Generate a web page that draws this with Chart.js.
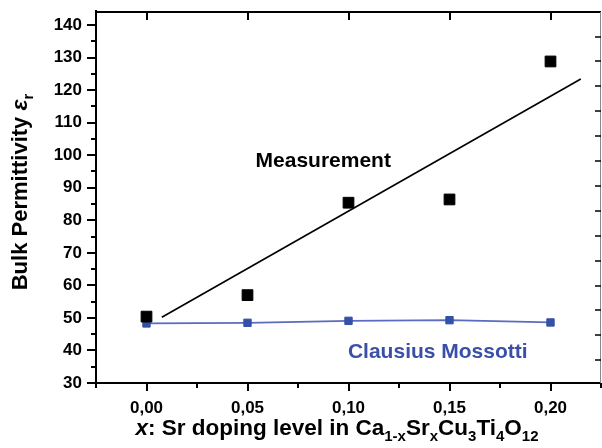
<!DOCTYPE html>
<html><head><meta charset="utf-8">
<script src="https://cdn.jsdelivr.net/npm/chart.js@4/dist/chart.umd.min.js"></script>
<style>html,body{margin:0;padding:0;background:#fff}#wrap{width:602px;height:448px}</style>
</head><body><div id="wrap"><canvas id="c" width="602" height="448"></canvas></div>
<script>
const dopingX = [0.00, 0.05, 0.10, 0.15, 0.20];
const measured = [50.4, 57.0, 85.4, 86.4, 128.8];
const clausiusMossotti = [48.3, 48.5, 49.1, 49.3, 48.6];
const fitX = [0.0076, 0.215];
const fitY = [50.2, 123.4];
const xTicks = [0.00, 0.05, 0.10, 0.15, 0.20];
const yTicks = [30, 40, 50, 60, 70, 80, 90, 100, 110, 120, 130, 140];

const FONT = '"Liberation Sans", Arial, Helvetica, sans-serif';

const framePlugin = {
  id: 'frame',
  beforeDatasetsDraw(chart) {
    const {ctx, chartArea: a, scales: {x, y}} = chart;
    ctx.save();
    ctx.strokeStyle = '#000';
    ctx.lineWidth = 2;
    ctx.beginPath();
    ctx.moveTo(a.left, a.top - 2); ctx.lineTo(a.left, a.bottom);
    ctx.lineTo(a.right, a.bottom);
    ctx.moveTo(a.left, a.top); ctx.lineTo(a.right, a.top);
    ctx.stroke();
    ctx.lineWidth = 1; ctx.strokeStyle = '#888';
    ctx.beginPath(); ctx.moveTo(a.right - 0.5, a.top); ctx.lineTo(a.right - 0.5, a.bottom); ctx.stroke();
    ctx.lineWidth = 2; ctx.strokeStyle = '#000';
    ctx.beginPath();
    for (let i = 0; i < xTicks.length; i++) {
      const px = Math.round(x.getPixelForValue(xTicks[i]));
      ctx.moveTo(px, a.bottom); ctx.lineTo(px, a.bottom + 8);
      ctx.moveTo(px, a.top); ctx.lineTo(px, a.top + 8);
    }
    const xMin = [-0.025, 0.025, 0.075, 0.125, 0.175, 0.225];
    for (const v of xMin) {
      const px = Math.round(x.getPixelForValue(v));
      ctx.moveTo(px, a.bottom); ctx.lineTo(px, a.bottom + 5);
    }
    for (const v of yTicks) {
      const py = Math.round(y.getPixelForValue(v));
      ctx.moveTo(a.left, py); ctx.lineTo(a.left - 9, py);
    }
    for (let v = 35; v <= 140; v += 10) {
      const py = Math.round(y.getPixelForValue(v));
      ctx.moveTo(a.left, py); ctx.lineTo(a.left - 5, py);
    }
    ctx.stroke();
    ctx.lineWidth = 1.5;
    ctx.beginPath();
    for (let py = a.top + 24.5; py < a.bottom; py += 24.9) {
      ctx.moveTo(a.right, Math.round(py)); ctx.lineTo(a.right - 6, Math.round(py));
    }
    ctx.stroke();
    ctx.restore();
  },
  afterDraw(chart) {
    const {ctx, scales: {x, y}} = chart;
    ctx.save();
    ctx.textAlign = 'center'; ctx.textBaseline = 'middle';
    ctx.font = 'bold 21px ' + FONT;
    ctx.fillStyle = '#000';
    ctx.fillText('Measurement', x.getPixelForValue(0.0875), y.getPixelForValue(98.1));
    ctx.fillStyle = '#3a4fa6';
    ctx.fillText('Clausius Mossotti', x.getPixelForValue(0.1442), y.getPixelForValue(39.6));

    const big = 'bold 22.5px ' + FONT, bigI = 'italic bold 22.5px ' + FONT, sub = 'bold 15px ' + FONT;
    const parts = [
      ['x', bigI, 0], [': Sr doping level in Ca', big, 0], ['1-x', sub, 6], ['Sr', big, 0], ['x', sub, 6],
      ['Cu', big, 0], ['3', sub, 6], ['Ti', big, 0], ['4', sub, 6], ['O', big, 0], ['12', sub, 6]
    ];
    drawParts(ctx, parts, 337, 435, '#000');

    ctx.translate(27, 192);
    ctx.rotate(-Math.PI / 2);
    const yparts = [['Bulk Permittivity ', 'bold 22px ' + FONT, 0], ['ε', 'italic bold 23px ' + FONT, 0], ['r', 'bold 15px ' + FONT, 6]];
    drawParts(ctx, yparts, 0, 0, '#000');
    ctx.restore();
  }
};

function drawParts(ctx, parts, cx, baseY, color) {
  let total = 0;
  for (const p of parts) { ctx.font = p[1]; total += ctx.measureText(p[0]).width; }
  let xx = cx - total / 2;
  ctx.textAlign = 'left'; ctx.textBaseline = 'alphabetic'; ctx.fillStyle = color;
  for (const p of parts) {
    ctx.font = p[1];
    ctx.fillText(p[0], xx, baseY + p[2]);
    xx += ctx.measureText(p[0]).width;
  }
}

function zeroPad(s) { s.paddingTop = 0; s.paddingBottom = 0; s.paddingLeft = 0; s.paddingRight = 0; }

new Chart(document.getElementById('c'), {
  type: 'scatter',
  data: {
    datasets: [
      {
        label: 'Fit', type: 'line',
        data: fitX.map((v, i) => ({x: v, y: fitY[i]})),
        borderColor: '#000', borderWidth: 1.6, pointRadius: 0, fill: false, order: 3
      },
      {
        label: 'Clausius Mossotti', type: 'line',
        data: dopingX.map((v, i) => ({x: v, y: clausiusMossotti[i]})),
        borderColor: '#5a6cc0', borderWidth: 1.8, pointStyle: 'rect', pointRadius: 5.2,
        pointBackgroundColor: '#3450a8', pointBorderColor: '#3450a8', pointBorderWidth: 1, fill: false, order: 2
      },
      {
        label: 'Measurement',
        data: dopingX.map((v, i) => ({x: v, y: measured[i]})),
        pointStyle: 'rect', pointRadius: 7.6, backgroundColor: '#000', borderColor: '#000', borderWidth: 1, order: 1
      }
    ]
  },
  options: {
    responsive: false, animation: false, devicePixelRatio: 1,
    layout: {autoPadding: false, padding: {left: 0, right: 1, top: 12, bottom: 0}},
    plugins: {legend: {display: false}, tooltip: {enabled: false}},
    scales: {
      x: {
        type: 'linear', min: -0.025, max: 0.225,
        grid: {display: false, drawTicks: false}, border: {display: false},
        afterBuildTicks: s => { s.ticks = xTicks.map(v => ({value: v})); },
        afterFit: s => { s.height = 65; zeroPad(s); },
        ticks: {
          padding: 15, color: '#000', font: {family: FONT, size: 17, weight: 'bold'},
          callback: v => Number(v).toFixed(2).replace('.', ',')
        }
      },
      y: {
        type: 'linear', min: 30, max: 144,
        grid: {display: false, drawTicks: false}, border: {display: false},
        afterBuildTicks: s => { s.ticks = yTicks.map(v => ({value: v})); },
        afterFit: s => { s.width = 96; zeroPad(s); },
        ticks: {
          padding: 14, color: '#000', font: {family: FONT, size: 17, weight: 'bold'},
          callback: v => String(v)
        }
      }
    }
  },
  plugins: [framePlugin]
});
</script></body></html>
